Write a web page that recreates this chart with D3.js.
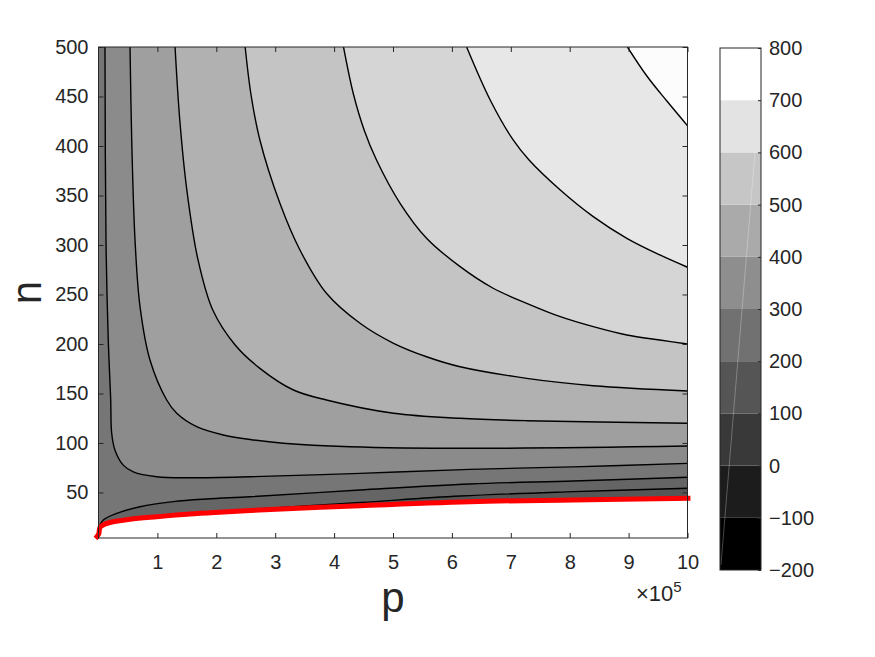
<!DOCTYPE html>
<html>
<head>
<meta charset="utf-8">
<script src="https://cdn.jsdelivr.net/npm/d3@7"></script>
<style>
    body { margin: 0; background: #fff; }
    svg { display: block; font-family: "Liberation Sans", Arial, Helvetica, sans-serif; }
</style>
</head>
<body>
<svg id="chart" width="875" height="657"></svg>
<script>
// Contour plot of f(p, n), p in units of 1e5
const pRange = [0, 10];
const nRange = [4, 500];
const xTicks = [1, 2, 3, 4, 5, 6, 7, 8, 9, 10];
const yTicks = [50, 100, 150, 200, 250, 300, 350, 400, 450, 500];

// contour levels and the traced lines for each one, [p, n]
const contourLevels = [-100, 0, 100, 200, 300, 400, 500, 600, 700];
const cM100 = [[1.5, 28.0], [2.57, 32.8], [4.44, 39.8], [6.14, 46.4], [8.06, 50.8], [10, 54.2]];
const c0 = [[0, 13.8], [0.081, 22.2], [0.309, 28.9], [0.705, 35.6], [1.27, 40.7], [1.837, 43.4],
    [2.572, 45.7], [4.44, 52.5], [6.307, 58.6], [8.061, 61.6], [10, 65.3]];
const c100 = [[0.110, 500], [0.127, 305], [0.166, 204], [0.207, 143.4], [0.224, 109.8], [0.280, 92.7],
    [0.421, 77.6], [0.591, 70.8], [0.988, 65.9], [1.553, 64.9], [2.572, 65.9], [4.44, 69.3],
    [6.307, 73.3], [8.056, 75.9], [10, 79.4]];
const c200 = [[0.535, 500], [0.564, 406.1], [0.62, 305], [0.705, 237.7], [0.874, 183.8], [1.158, 143.4],
    [1.328, 130], [1.667, 116.4], [2.119, 108], [2.572, 103.5], [3.137, 99.7], [4.27, 96.2],
    [6.307, 94.6], [10, 96.9]];
const c300 = [[1.30, 500], [1.38, 426.3], [1.50, 355.5], [1.69, 284.9], [1.94, 234.3], [2.32, 199],
    [2.74, 175.4], [3.31, 153.5], [3.87, 143.4], [5.01, 130], [6.14, 124.9], [7.27, 122.5], [10, 119.9]];
const c400 = [[2.49, 500], [2.59, 451.5], [2.74, 406.1], [3.08, 342.1], [3.42, 294.9],
    [3.87, 251.2], [4.44, 220.9], [5.01, 200.7], [5.57, 187.1], [6.14, 177], [7.27, 165.3],
    [8.40, 157.8], [10, 152.5]];
const c500 = [[4.16, 500], [4.33, 452], [4.51, 416.2], [4.72, 385.8], [5.12, 342.1], [5.57, 306.8],
    [6.14, 278.1], [6.70, 256.3], [7.27, 241.1], [7.84, 227.6], [8.40, 217.5], [8.97, 209.1],
    [9.53, 204], [10, 200]];
const c600 = [[6.25, 500], [6.65, 446.5], [7.04, 406.1], [7.31, 385.8], [7.84, 355.5], [8.40, 328.6],
    [8.97, 306.7], [9.53, 289.9], [10, 277.5]];
const c700 = [[8.98, 500], [9.31, 470.7], [9.65, 445.4], [10, 420.5]];
const contourLines = [cM100, c0, c100, c200, c300, c400, c500, c600, c700];

// red boundary curve
const boundary = [[-0.05, 3.5], [0.003, 8], [0.025, 14.6], [0.093, 17.6], [0.195, 19.7], [0.535, 22.9],
    [0.988, 25.5], [1.553, 28.3], [2.119, 30.3], [2.572, 31.8], [4.44, 36.7], [6.307, 40.7],
    [8.061, 42.4], [10.05, 44.1]];

// fill of each band in the plot (lowest band first)
const bandFill = ['#565656', '#656565', '#767676', '#8b8b8b', '#9f9f9f', '#b1b1b1',
    '#c4c4c4', '#d5d5d5', '#e7e7e7', '#fcfcfc'];

// colorbar
const barEdges = [-200, -100, 0, 100, 200, 300, 400, 500, 600, 700, 800];
const barGray = ['#000000', '#1c1c1c', '#393939', '#555555', '#717171', '#8e8e8e',
    '#aaaaaa', '#c6c6c6', '#e3e3e3', '#ffffff'];

const svg = d3.select('#chart');
const plot = { left: 98.5, right: 687.5, top: 47, bottom: 538 };
const bar = { left: 720, right: 761, top: 48, bottom: 570 };
const textColor = '#262626';

const x = d3.scaleLinear().domain(pRange).range([plot.left, plot.right]);
const y = d3.scaleLinear().domain(nRange).range([plot.bottom, plot.top]);

const lineGen = d3.line()
    .x(d => x(d[0]))
    .y(d => y(d[1]))
    .curve(d3.curveCatmullRom.alpha(0.5));

const defs = svg.append('defs');
defs.append('clipPath').attr('id', 'plotClip')
    .append('rect')
    .attr('x', plot.left).attr('y', plot.top)
    .attr('width', plot.right - plot.left).attr('height', plot.bottom - plot.top);

// everything above the red curve
const last = boundary[boundary.length - 1];
defs.append('clipPath').attr('id', 'redClip')
    .append('path')
    .attr('d', lineGen(boundary) +
        `L${plot.right + 20},${y(last[1])}L${plot.right + 20},${plot.top - 20}` +
        `L${plot.left - 20},${plot.top - 20}L${plot.left - 20},${y(boundary[0][1])}Z`);

// Filled bands
const fills = svg.append('g').attr('clip-path', 'url(#plotClip)')
    .append('g').attr('clip-path', 'url(#redClip)');

fills.append('rect')
    .attr('x', plot.left).attr('y', plot.top)
    .attr('width', plot.right - plot.left).attr('height', plot.bottom - plot.top)
    .attr('fill', bandFill[0]);

contourLines.forEach((pts, i) => {
    const first = pts[0];
    let d = lineGen(pts) + `L${x(pRange[1])},${y(nRange[1])}`;
    if (first[1] < nRange[1]) {
        d += `L${x(pRange[0])},${y(nRange[1])}L${x(pRange[0])},${y(nRange[0])}L${x(first[0])},${y(nRange[0])}`;
    }
    fills.append('path')
        .attr('d', d + 'Z')
        .attr('fill', bandFill[i + 1]);
});

// Contour lines
const lines = svg.append('g').attr('clip-path', 'url(#plotClip)');
contourLines.forEach(pts => {
    lines.append('path')
        .attr('d', lineGen(pts))
        .attr('fill', 'none')
        .attr('stroke', '#000')
        .attr('stroke-width', 1.4);
});

// Red boundary
svg.append('path')
    .attr('d', lineGen(boundary))
    .attr('fill', 'none')
    .attr('stroke', '#ff0000')
    .attr('stroke-width', 5);

// Axes (ticks point inward, box on)
function styleAxis(g) {
    g.select('.domain').remove();
    g.selectAll('.tick line').attr('stroke', textColor);
    g.selectAll('.tick text')
        .attr('fill', textColor)
        .style('font-size', '20px')
        .style('font-family', '"Liberation Sans", Arial, sans-serif');
}

svg.append('g')
    .attr('transform', `translate(0,${plot.bottom})`)
    .call(d3.axisBottom(x).tickValues(xTicks).tickSizeInner(-5).tickSizeOuter(0).tickPadding(17))
    .call(styleAxis);

svg.append('g')
    .attr('transform', `translate(0,${plot.top})`)
    .call(d3.axisTop(x).tickValues(xTicks).tickSizeInner(-5).tickSizeOuter(0).tickFormat(''))
    .call(styleAxis);

svg.append('g')
    .attr('transform', `translate(${plot.left},0)`)
    .call(d3.axisLeft(y).tickValues(yTicks).tickSizeInner(-5).tickSizeOuter(0).tickPadding(10))
    .call(styleAxis);

svg.append('g')
    .attr('transform', `translate(${plot.right},0)`)
    .call(d3.axisRight(y).tickValues(yTicks).tickSizeInner(-5).tickSizeOuter(0).tickFormat(''))
    .call(styleAxis);

svg.append('rect')
    .attr('x', plot.left).attr('y', plot.top)
    .attr('width', plot.right - plot.left).attr('height', plot.bottom - plot.top)
    .attr('fill', 'none')
    .attr('stroke', textColor)
    .attr('stroke-width', 1);

// Axis labels
svg.append('text')
    .attr('x', (plot.left + plot.right) / 2)
    .attr('y', 612)
    .attr('text-anchor', 'middle')
    .attr('fill', textColor)
    .style('font-size', '42px')
    .text('p');

svg.append('text')
    .attr('transform', `translate(41,${(plot.top + plot.bottom) / 2}) rotate(-90)`)
    .attr('text-anchor', 'middle')
    .attr('fill', textColor)
    .style('font-size', '42px')
    .text('n');

// exponent of the p axis
const expo = svg.append('text')
    .attr('x', 636)
    .attr('y', 601)
    .attr('fill', textColor)
    .style('font-size', '22px')
    .text('×10');
expo.append('tspan')
    .attr('dy', -9)
    .style('font-size', '15px')
    .text('5');

// Colorbar
const barScale = d3.scaleLinear()
    .domain([barEdges[0], barEdges[barEdges.length - 1]])
    .range([bar.bottom, bar.top]);

svg.append('g')
    .selectAll('rect')
    .data(barGray)
    .join('rect')
    .attr('x', bar.left)
    .attr('width', bar.right - bar.left)
    .attr('y', (d, i) => barScale(barEdges[i + 1]))
    .attr('height', (d, i) => barScale(barEdges[i]) - barScale(barEdges[i + 1]))
    .attr('fill', d => d);

// faint rendering streak across the colorbar
svg.append('line')
    .attr('x1', bar.left + 1).attr('y1', barScale(-190))
    .attr('x2', bar.left + 35).attr('y2', barScale(600))
    .attr('stroke', '#fff')
    .attr('stroke-opacity', 0.35)
    .attr('stroke-width', 0.8);

svg.append('g')
    .attr('transform', `translate(${bar.right},0)`)
    .call(d3.axisRight(barScale).tickValues(barEdges).tickSizeInner(-3).tickSizeOuter(0).tickPadding(8))
    .call(styleAxis);

svg.append('rect')
    .attr('x', bar.left).attr('y', bar.top)
    .attr('width', bar.right - bar.left).attr('height', bar.bottom - bar.top)
    .attr('fill', 'none')
    .attr('stroke', textColor)
    .attr('stroke-width', 1);
</script>
</body>
</html>
